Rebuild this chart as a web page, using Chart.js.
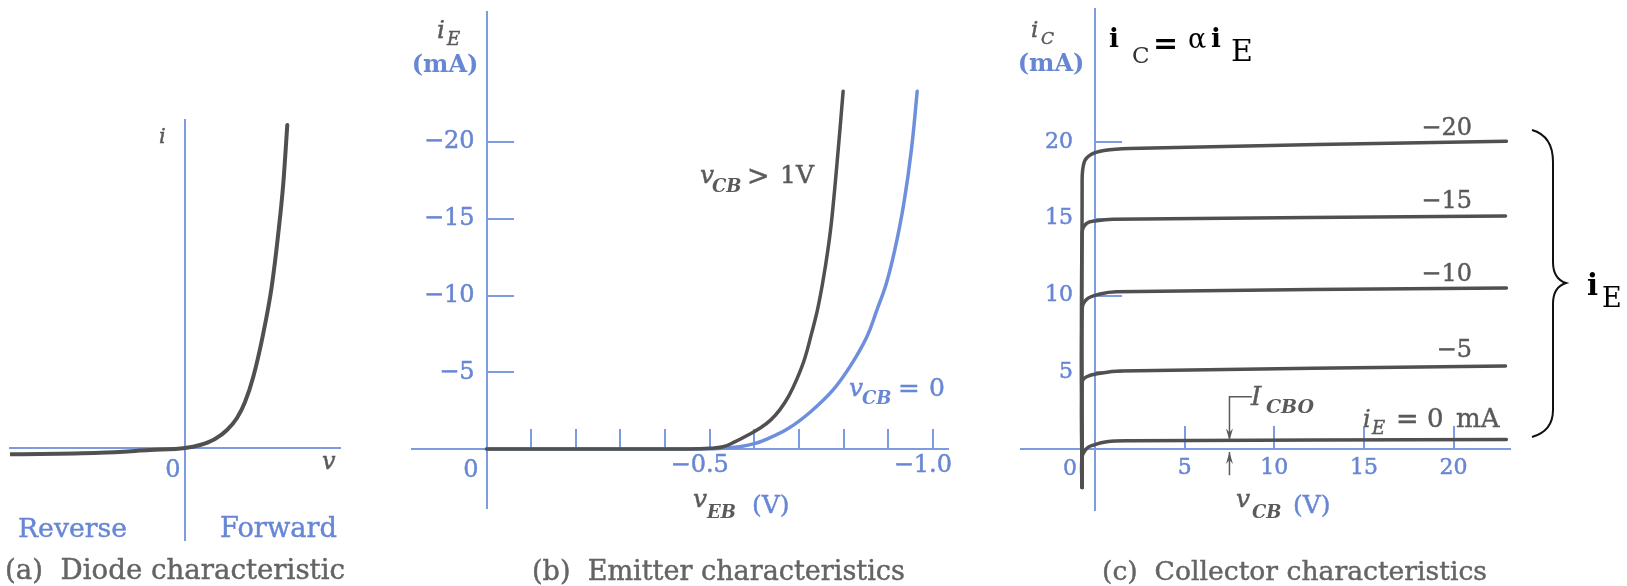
<!DOCTYPE html>
<html>
<head>
<meta charset="utf-8">
<title>Diode and transistor characteristics</title>
<script src="https://cdn.jsdelivr.net/npm/chart.js@4.4.1/dist/chart.umd.min.js"></script>
<style>
  html, body { margin: 0; padding: 0; background: #ffffff; overflow: hidden; }
  #wrap { position: relative; width: 1627px; height: 586px; overflow: hidden; background: #ffffff; }
  #wrap canvas { position: absolute; left: -100px; top: -100px; }
</style>
</head>
<body>
<div id="wrap">
  <canvas id="diode" width="1827" height="786"></canvas>
  <canvas id="emitter" width="1827" height="786"></canvas>
  <canvas id="collector" width="1827" height="786"></canvas>
</div>
<script>
// ---------- data ----------
// (a) diode characteristic, arbitrary units
const diodeV = [-1.75, -0.85, -0.35, 0, 0.15, 0.3, 0.42, 0.52, 0.6, 0.683, 0.783, 0.867, 0.933, 0.983, 1.023];
const diodeI = [-0.063, -0.047, -0.02, 0, 0.03, 0.09, 0.18, 0.3, 0.46, 0.713, 1.147, 1.613, 2.147, 2.647, 3.23];

// (b) emitter characteristics: v_EB (V) vs i_E (mA)
const emitterVoltTicks = [0, -0.1, -0.2, -0.3, -0.4, -0.5, -0.6, -0.7, -0.8, -0.9, -1.0];
const emitterVoltLabeled = [-0.5, -1.0];
const emitterCurrentTicks = [-20, -15, -10, -5];
const vebActive = [0, -0.3, -0.45, -0.5, -0.53, -0.555, -0.585, -0.615, -0.637, -0.657, -0.678, -0.696, -0.713, -0.728, -0.741, -0.753, -0.765, -0.774, -0.788, -0.799];
const ieActive  = [0, 0, -0.01, -0.05, -0.15, -0.45, -0.9, -1.4, -1.9, -2.55, -3.5, -4.6, -5.9, -7.5, -9, -10.8, -13, -15.1, -19.5, -23.3];
const vebZero = [0, -0.3, -0.48, -0.53, -0.567, -0.6, -0.624, -0.674, -0.725, -0.775, -0.815, -0.852, -0.874, -0.896, -0.915, -0.935, -0.952, -0.965];
const ieZero  = [0, 0, -0.01, -0.05, -0.15, -0.35, -0.6, -1.3, -2.4, -3.8, -5.4, -7.3, -9, -10.8, -13, -16, -19.5, -23.3];

// (c) collector characteristics: v_CB (V) vs i_C (mA), one curve per i_E
const collectorVoltTicks = [5, 10, 15, 20];
const collectorCurrentTicks = [5, 10, 15, 20];
const emitterCurrentLevels = [0, -5, -10, -15, -20];
const vcbIe0  = [-0.72, -0.72, -0.45, -0.09, 0.65, 1.95, 22.95];
const icIe0   = [-2.5, -0.5, 0.05, 0.26, 0.48, 0.54, 0.62];
const vcbIe5  = [-0.72, -0.72, -0.47, 0.28, 1.4, 22.9];
const icIe5   = [-2.5, 4.35, 4.71, 4.93, 5.08, 5.41];
const vcbIe10 = [-0.72, -0.72, -0.47, 0.28, 1.2, 22.95];
const icIe10  = [-2.5, 9.1, 9.75, 10.1, 10.25, 10.49];
const vcbIe15 = [-0.72, -0.72, -0.47, 0.09, 1.0, 22.9];
const icIe15  = [-2.5, 14.1, 14.7, 14.87, 14.96, 15.18];
const vcbIe20 = [-0.72, -0.72, -0.6, -0.2, 0.5, 1.9, 22.95];
const icIe20  = [-2.5, 17.3, 18.7, 19.2, 19.45, 19.58, 20.05];
const icboAt = 7.5; // v_CB where the I_CBO arrows point

// ---------- style ----------
const SERIF = '"DejaVu Serif", serif';
const OFF = 100;              // canvases overhang the page by this much on every side
const W = 1627, H = 586;
const AXIS_BLUE = '#7d9be0';
const TEXT_BLUE = '#6787d4';
const CURVE_GRAY = '#505050';
const CURVE_BLUE = '#6d8fdc';
const TEXT_GRAY = '#5a5a5a';
const CAPTION_GRAY = '#646464';

const font = (size, style) => (style ? style + ' ' : '') + size + 'px ' + SERIF;
const pts = (xs, ys) => xs.map((x, k) => ({x: x, y: ys[k]}));
const near = (list, v) => list.some(u => Math.abs(u - v) < 1e-9);
const minus = v => (v < 0 ? '\u2212' : '') + Math.abs(v);

// filled text with a hairline stroke in the same colour for a slightly heavier print look
function text(c, s, x, y, f, color, align, stroke) {
  c.font = f; c.fillStyle = color; c.textAlign = align || 'left'; c.textBaseline = 'alphabetic';
  c.fillText(s, x, y);
  const sw = stroke === undefined ? 0.45 : stroke;
  if (sw > 0) { c.lineWidth = sw; c.strokeStyle = color; c.strokeText(s, x, y); }
}
// text scaled so that it spans the given width
function fitText(c, s, left, width, y, style, color) {
  c.font = font(100, style);
  const w = c.measureText(s).width;
  text(c, s, left, y, font((100 * width / w).toFixed(2), style), color);
}

function baseOptions(area) {
  return {
    responsive: false, maintainAspectRatio: false, animation: false, devicePixelRatio: 1, events: [],
    layout: { padding: { left: area[0] + OFF, top: area[1] + OFF, right: W + OFF - area[2], bottom: H + OFF - area[3] } },
    plugins: { legend: { display: false }, tooltip: { enabled: false }, title: { display: false } }
  };
}

// axis that crosses the other one at zero
function crossAxis(o) {
  const ax = {
    type: 'linear', min: o.min, max: o.max, reverse: !!o.reverse, position: o.at,
    grid: { display: true, drawOnChartArea: false, drawTicks: !!o.ticks, tickLength: o.tickLength || 0,
            color: AXIS_BLUE, lineWidth: 2 },
    border: { display: true, color: AXIS_BLUE, width: 2 },
    ticks: { display: !!o.label, autoSkip: false, maxRotation: 0, minRotation: 0,
             padding: o.padding || 0, labelOffset: o.labelOffset || 0, color: TEXT_BLUE,
             textStrokeColor: TEXT_BLUE, textStrokeWidth: 0.5,
             font: { family: 'DejaVu Serif', size: o.fontSize || 22 }, callback: o.label || (() => '') }
  };
  if (o.ticks) ax.afterBuildTicks = s => { s.ticks = o.ticks.map(v => ({value: v})); };
  return ax;
}

function curve(data, color, width, monotone) {
  const d = { data: data, borderColor: color, borderWidth: width, pointRadius: 0, tension: 0.4,
              fill: false, borderCapStyle: 'round', borderJoinStyle: 'round' };
  if (monotone) d.cubicInterpolationMode = 'monotone';
  return d;
}

// ---------- (a) diode ----------
const diodeNotes = {
  id: 'diodeNotes',
  afterDraw(chart) {
    const c = chart.ctx; c.save(); c.translate(OFF, OFF);
    text(c, 'i', 159, 143, font(21, 'italic'), TEXT_GRAY);
    text(c, '0', 173, 477, font(24), TEXT_BLUE, 'center');
    text(c, 'v', 322, 469, font(24, 'italic'), TEXT_GRAY);
    fitText(c, 'Reverse', 18, 109, 537, '', TEXT_BLUE);
    fitText(c, 'Forward', 220, 117, 537, '', TEXT_BLUE);
    fitText(c, '(a)  Diode characteristic', 5, 340, 579, '', CAPTION_GRAY);
    c.restore();
  }
};

new Chart(document.getElementById('diode'), {
  type: 'line',
  data: { datasets: [curve(pts(diodeV, diodeI), CURVE_GRAY, 4, true)] },
  options: Object.assign(baseOptions([10, 120, 340, 540]), {
    scales: {
      x: crossAxis({ min: -1.75, max: 1.55, at: { y: 0 } }),
      y: crossAxis({ min: -0.92, max: 3.28, at: { x: 0 } })
    }
  }),
  plugins: [diodeNotes]
});

// ---------- (b) emitter ----------
const emitterNotes = {
  id: 'emitterNotes',
  afterDraw(chart) {
    const c = chart.ctx; c.save(); c.translate(OFF, OFF);
    text(c, 'i', 437, 38, font(25, 'italic'), TEXT_GRAY);
    text(c, 'E', 447, 45, font(18, 'italic'), TEXT_GRAY);
    text(c, '(mA)', 445, 72, font(24, 'bold'), TEXT_BLUE, 'center', 0);
    // v_CB > 1 V
    text(c, 'v', 700, 183, font(25, 'italic'), TEXT_GRAY);
    text(c, 'CB', 712, 192, font(18, 'bold italic'), TEXT_GRAY, 'left', 0);
    text(c, '>', 747, 185, font(27), TEXT_GRAY);
    text(c, '1', 780, 183, font(25), TEXT_GRAY);
    text(c, 'V', 796, 183, font(25), TEXT_GRAY);
    // v_CB = 0
    text(c, 'v', 849, 396, font(25, 'italic'), TEXT_BLUE);
    text(c, 'CB', 862, 404, font(18, 'bold italic'), TEXT_BLUE, 'left', 0);
    text(c, '=', 898, 397, font(26), TEXT_BLUE);
    text(c, '0', 929, 396, font(25), TEXT_BLUE);
    // axis title
    text(c, 'v', 693, 507, font(25, 'italic'), TEXT_GRAY);
    text(c, 'EB', 707, 518, font(18, 'bold italic'), TEXT_GRAY, 'left', 0);
    text(c, '(V)', 752, 513, font(25), TEXT_BLUE);
    text(c, '0', 471, 477, font(24), TEXT_BLUE, 'center');
    fitText(c, '(b)  Emitter characteristics', 532, 373, 580, '', CAPTION_GRAY);
    c.restore();
  }
};

new Chart(document.getElementById('emitter'), {
  type: 'line',
  data: { datasets: [
    curve(pts(vebActive, ieActive), CURVE_GRAY, 3.5),
    curve(pts(vebZero, ieZero), CURVE_BLUE, 3.5)
  ] },
  options: Object.assign(baseOptions([412, 12, 948, 508]), {
    scales: {
      x: crossAxis({ min: -1.034, max: 0.167, reverse: true, at: { y: 0 }, ticks: emitterVoltTicks,
                     tickLength: -21, padding: 23, labelOffset: -10, fontSize: 24,
                     label: v => near(emitterVoltLabeled, v) ? '\u2212' + Math.abs(v).toFixed(1) : '' }),
      y: crossAxis({ min: -28.47, max: 3.84, reverse: true, at: { x: 0 }, ticks: emitterCurrentTicks,
                     tickLength: -28, fontSize: 24,
                     label: v => minus(v) + '\u2002' })
    }
  }),
  plugins: [emitterNotes]
});

// ---------- (c) collector ----------
function arrowHead(c, x, tipY, dir) {
  c.beginPath();
  c.moveTo(x, tipY);
  c.lineTo(x - 3.5, tipY - dir * 12);
  c.lineTo(x, tipY - dir * 8);
  c.lineTo(x + 3.5, tipY - dir * 12);
  c.closePath();
  c.fill();
}

const collectorNotes = {
  id: 'collectorNotes',
  afterDraw(chart) {
    const c = chart.ctx;
    const xs = chart.scales.x, ys = chart.scales.y;
    c.save(); c.translate(OFF, OFF);
    const px = v => xs.getPixelForValue(v) - OFF;
    const py = v => ys.getPixelForValue(v) - OFF;

    text(c, 'i', 1031, 37, font(23, 'italic'), TEXT_GRAY);
    text(c, 'C', 1041, 44, font(17, 'italic'), TEXT_GRAY);
    text(c, '(mA)', 1051, 71, font(24, 'bold'), TEXT_BLUE, 'center', 0);
    text(c, '0', 1070, 475, font(22), TEXT_BLUE, 'center');

    text(c, 'v', 1236, 507, font(25, 'italic'), TEXT_GRAY);
    text(c, 'CB', 1252, 518, font(18, 'bold italic'), TEXT_GRAY, 'left', 0);
    text(c, '(V)', 1293, 513, font(25), TEXT_BLUE);

    // i_E labels of the curves
    const labelBase = { '-5': 357, '-10': 281, '-15': 208, '-20': 135 };
    emitterCurrentLevels.filter(v => v !== 0).forEach(v => {
      text(c, minus(v), 1472, labelBase[String(v)], font(24), TEXT_GRAY, 'right');
    });
    text(c, 'i', 1363, 427, font(24, 'italic'), TEXT_GRAY);
    text(c, 'E', 1372, 434, font(18, 'italic'), TEXT_GRAY);
    text(c, '=', 1396, 428, font(27), TEXT_GRAY);
    text(c, '0', 1427, 427, font(26), TEXT_GRAY);
    text(c, 'mA', 1456, 427, font(26), TEXT_GRAY);

    // I_CBO marker
    text(c, 'I', 1251, 405, font(26, 'italic'), TEXT_GRAY);
    text(c, 'CBO', 1266, 413, font(19, 'bold italic'), TEXT_GRAY, 'left', 0);
    const ax = px(icboAt);
    c.strokeStyle = TEXT_GRAY; c.fillStyle = TEXT_GRAY; c.lineWidth = 1.5;
    c.beginPath();
    c.moveTo(px(8.75), py(3.4)); c.lineTo(ax, py(3.4)); c.lineTo(ax, py(0.62));
    c.moveTo(ax, py(-1.7)); c.lineTo(ax, py(-0.2));
    c.stroke();
    arrowHead(c, ax, py(0.56), 1);
    arrowHead(c, ax, py(-0.2), -1);

    // i_C = alpha i_E
    text(c, 'i', 1109, 47, font(26, 'bold'), '#000', 'left', 0);
    text(c, 'C', 1132, 63, font(23), '#333', 'left', 0);
    text(c, '=', 1153, 53, font(30, 'bold'), '#000', 'left', 0);
    text(c, '\u03b1', 1188, 48, font(27), '#000', 'left', 0);
    text(c, 'i', 1211, 47, font(26, 'bold'), '#000', 'left', 0);
    text(c, 'E', 1231, 61, font(30), '#000', 'left', 0);

    // brace grouping the i_E curves
    c.strokeStyle = '#111'; c.lineWidth = 2;
    c.beginPath();
    c.moveTo(1532, 130);
    c.quadraticCurveTo(1553, 136, 1553, 162);
    c.lineTo(1553, 262);
    c.quadraticCurveTo(1553, 279, 1566, 283);
    c.quadraticCurveTo(1553, 287, 1553, 304);
    c.lineTo(1553, 410);
    c.quadraticCurveTo(1553, 431, 1532, 437);
    c.stroke();
    text(c, 'i', 1587, 295, font(29, 'bold'), '#000', 'left', 0);
    text(c, 'E', 1602, 307, font(27), '#000', 'left', 0);

    fitText(c, '(c)  Collector characteristics', 1102, 385, 580, '', CAPTION_GRAY);
    c.restore();
  }
};

new Chart(document.getElementById('collector'), {
  type: 'line',
  data: { datasets: [
    curve(pts(vcbIe0, icIe0), CURVE_GRAY, 3.5),
    curve(pts(vcbIe5, icIe5), CURVE_GRAY, 3.5),
    curve(pts(vcbIe10, icIe10), CURVE_GRAY, 3.5),
    curve(pts(vcbIe15, icIe15), CURVE_GRAY, 3.5),
    curve(pts(vcbIe20, icIe20), CURVE_GRAY, 3.5)
  ] },
  options: Object.assign(baseOptions([1021, 9, 1510, 510]), {
    scales: {
      x: crossAxis({ min: -4.13, max: 23.15, at: { y: 0 }, ticks: collectorVoltTicks,
                     tickLength: -24, padding: 30, fontSize: 22, label: v => String(v) }),
      y: crossAxis({ min: -3.97, max: 28.66, at: { x: 0 }, ticks: collectorCurrentTicks,
                     tickLength: -28, fontSize: 22, label: v => String(v) + '\u2003' })
    }
  }),
  plugins: [collectorNotes]
});
</script>
</body>
</html>
